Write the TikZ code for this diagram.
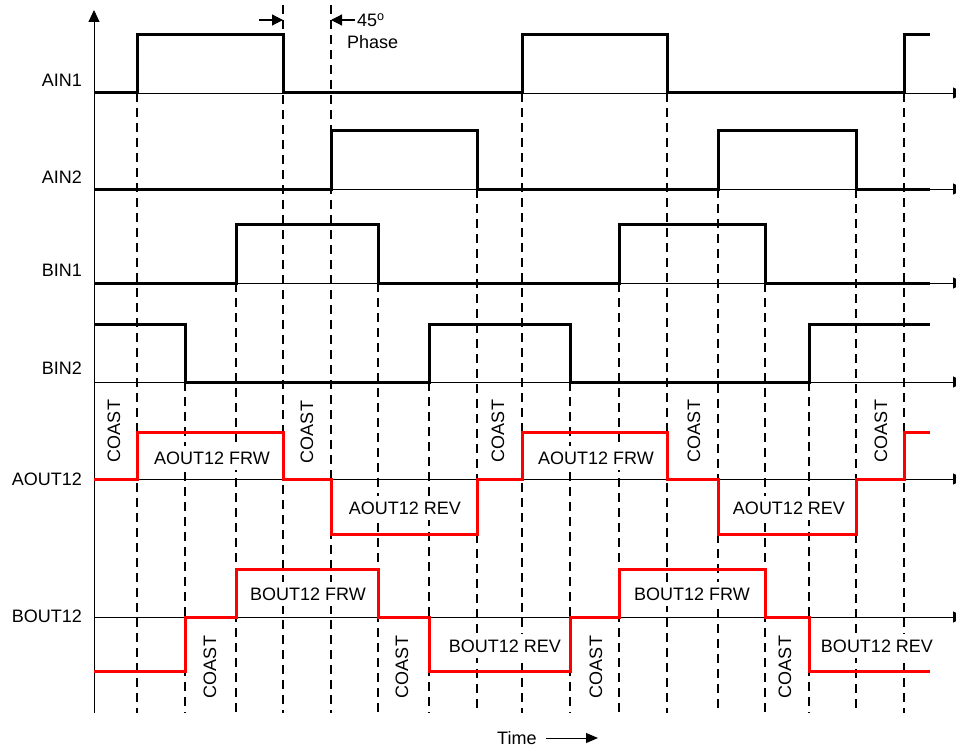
\documentclass[tikz,border=0pt]{standalone}
\usepackage{fontspec}
\setmainfont{Liberation Sans}
\usepackage{tikz}
\usetikzlibrary{arrows.meta}
\tikzset{
  axis/.style={black, line width=0.9pt, -{Triangle[length=12pt,width=11pt]}},
  sig/.style={black, line width=3pt},
  drv/.style={red, line width=3pt},
  gridln/.style={black, line width=1.1pt, dash pattern=on 9pt off 6pt},
  sname/.style={anchor=east, inner sep=0pt},
  state/.style={fill=white, inner xsep=3pt, inner ysep=6pt},
  coast/.style={rotate=90, inner sep=0pt},
  phase/.style={line width=1.2pt, -{Triangle[length=11pt,width=11pt]}}
}

\begin{document}
\begin{tikzpicture}[x=1pt, y=-1pt, font=\fontsize{18}{21}\selectfont]
\useasboundingbox (0, 0) rectangle (956, 749);
\foreach \t/\s in {137/93, 185/382, 236/283, 283/5, 331/5, 378/283, 429/382, 477/189, 522/93,
                   570/382, 619/283, 667/93, 718/189, 765/283, 809/382, 856/189, 904/93}
  \draw[gridln] (\t, \s) -- (\t, 713);

\draw[axis] (94, 713) -- (94, 10);
\foreach \y in {93, 189, 283, 382, 479, 617}
  \draw[axis] (94, \y) -- (965, \y);

\node[sname] (ain1) at (82, 80) {AIN1};
\node[sname] (ain2) at (82, 177) {AIN2};
\node[sname] (bin1) at (82, 270) {BIN1};
\node[sname] (bin2) at (82, 368) {BIN2};
\node[sname] (aout) at (82, 479) {AOUT12};
\node[sname] (bout) at (82, 616) {BOUT12};

\draw[sig] (94, 93) -- (137, 93) -- (137, 35) -- (283, 35) -- (283, 93) -- (522, 93) -- (522, 35) -- (667, 35) -- (667, 93) -- (904, 93) -- (904, 35) -- (930, 35);
\draw[sig] (94, 189) -- (331, 189) -- (331, 131) -- (477, 131) -- (477, 189) -- (718, 189) -- (718, 131) -- (856, 131) -- (856, 189) -- (930, 189);
\draw[sig] (94, 283) -- (236, 283) -- (236, 224) -- (378, 224) -- (378, 283) -- (619, 283) -- (619, 224) -- (765, 224) -- (765, 283) -- (930, 283);
\draw[sig] (94, 324) -- (185, 324) -- (185, 382) -- (429, 382) -- (429, 324) -- (570, 324) -- (570, 382) -- (809, 382) -- (809, 324) -- (930, 324);

\node[state] (af1) at (212, 458) {AOUT12 FRW};
\node[state] (ar1) at (405, 508) {AOUT12 REV};
\node[state] (af2) at (596, 458) {AOUT12 FRW};
\node[state] (ar2) at (789, 508) {AOUT12 REV};
\node[state] (bf1) at (308, 594) {BOUT12 FRW};
\node[state] (br1) at (505, 646) {BOUT12 REV};
\node[state] (bf2) at (692, 594) {BOUT12 FRW};
\node[state] (br2) at (877, 646) {BOUT12 REV};

\draw[drv] (94, 479) -- (137, 479) -- (137, 432) -- (283, 432) -- (283, 479) -- (331, 479) -- (331, 534) -- (477, 534) -- (477, 479) -- (522, 479) -- (522, 432) -- (667, 432) -- (667, 479) -- (718, 479) -- (718, 534) -- (856, 534) -- (856, 479) -- (904, 479) -- (904, 432) -- (930, 432);
\draw[drv] (94, 671) -- (185, 671) -- (185, 617) -- (236, 617) -- (236, 569) -- (378, 569) -- (378, 617) -- (429, 617) -- (429, 671) -- (570, 671) -- (570, 617) -- (619, 617) -- (619, 569) -- (765, 569) -- (765, 617) -- (809, 617) -- (809, 671) -- (930, 671);

\node[coast] (ac1) at (114, 431) {COAST};
\node[coast] (ac2) at (307, 432) {COAST};
\node[coast] (ac3) at (498, 431) {COAST};
\node[coast] (ac4) at (694, 431) {COAST};
\node[coast] (ac5) at (881, 431) {COAST};
\node[coast] (bc1) at (210, 667) {COAST};
\node[coast] (bc2) at (402, 667) {COAST};
\node[coast] (bc3) at (596, 667) {COAST};
\node[coast] (bc4) at (785, 667) {COAST};

\coordinate (ph1) at (283, 20);
\coordinate (ph2) at (331, 20);
\node[anchor=west, inner sep=0pt] (deg) at (357, 20) {45\textsuperscript{o}};
\node[anchor=west, inner sep=0pt] (phase) at (347, 42) {Phase};
\draw[phase] ([xshift=-24pt]ph1) -- (ph1);
\draw[phase] ([xshift=-2pt]deg.west) -- (ph2);

\node[anchor=west, inner sep=0pt] (time) at (497, 738) {Time};
\coordinate (tend) at (598, 738);
\draw[line width=0.9pt, -{Triangle[length=12pt,width=10pt]}] ([xshift=9pt]time.east) -- (tend);
\end{tikzpicture}
\end{document}
